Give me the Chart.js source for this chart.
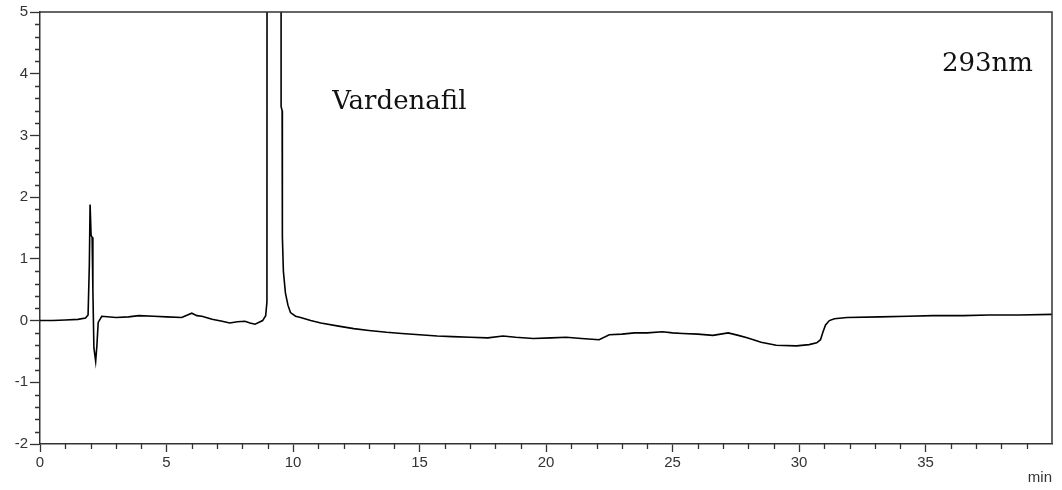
<!DOCTYPE html>
<html>
<head>
<meta charset="utf-8">
<title>Chromatogram 293nm</title>
<script src="https://cdn.jsdelivr.net/npm/chart.js@4.4.1/dist/chart.umd.min.js"></script>
<style>
    html, body { margin: 0; padding: 0; background: #fff; }
    #wrap { width: 1062px; height: 490px; }
</style>
</head>
<body>
<div id="wrap"><canvas id="chromChart" width="1062" height="490"></canvas></div>
<script>
// Retention time (min) and detector signal
const times = [0, 0.5, 1.0, 1.5, 1.8, 1.9, 1.95, 1.98, 2.02, 2.06, 2.09, 2.13, 2.2, 2.25, 2.3, 2.44,
    3.0, 3.5, 3.9, 4.5, 5.0, 5.6, 6.0, 6.2, 6.4, 6.8, 7.2, 7.5, 7.8, 8.1, 8.3, 8.5, 8.8, 8.92, 8.97,
    8.99, 9.52, 9.53, 9.57, 9.58, 9.62, 9.7, 9.8, 9.9, 10.1, 10.3, 10.7, 11.1, 11.8, 12.4, 13.0, 13.7,
    14.3, 15.0, 15.7, 16.3, 17.0, 17.7, 18.3, 18.8, 19.5, 20.2, 20.8, 21.4, 22.1, 22.5, 23.0, 23.5,
    24.0, 24.6, 25.0, 25.4, 26.0, 26.6, 27.2, 27.6, 27.95, 28.5, 29.1, 29.9, 30.4, 30.7, 30.85, 30.95,
    31.05, 31.2, 31.4, 31.9, 33.2, 34.3, 35.3, 36.5, 37.5, 38.7, 40.0];
const signal = [0.0, 0.0, 0.01, 0.02, 0.04, 0.09, 0.9, 1.88, 1.38, 1.35, 0.5, -0.44, -0.66, -0.4, -0.03, 0.07,
    0.05, 0.06, 0.08, 0.07, 0.06, 0.05, 0.12, 0.08, 0.07, 0.02, -0.01, -0.04, -0.02, -0.01, -0.04, -0.06, 0.0, 0.08, 0.3,
    30, 30, 3.47, 3.4, 1.36, 0.8, 0.45, 0.25, 0.13, 0.07, 0.05, 0.0, -0.04, -0.09, -0.13, -0.16, -0.19,
    -0.21, -0.23, -0.25, -0.26, -0.27, -0.28, -0.25, -0.27, -0.29, -0.28, -0.27, -0.29, -0.31, -0.23, -0.22, -0.2,
    -0.2, -0.18, -0.2, -0.21, -0.22, -0.24, -0.2, -0.24, -0.28, -0.35, -0.4, -0.41, -0.39, -0.36, -0.31, -0.18,
    -0.07, 0.0, 0.03, 0.05, 0.06, 0.07, 0.08, 0.08, 0.09, 0.09, 0.1];

// Axis setup
const xTicks = [0, 5, 10, 15, 20, 25, 30, 35];
const yTicks = [-2, -1, 0, 1, 2, 3, 4, 5];
const xMinorStep = 1;
const yMinorStep = 0.2;

// Text labels on the plot
const peakLabel = { text: 'Vardenafil', x: 11.55, y: 3.43 };
const waveLabel = { text: '293nm', x: 35.65, y: 4.04 };

const axisColor = '#333';

// Minor ticks, frame and text labels
const decorPlugin = {
    id: 'decor',
    afterDraw(chart) {
        const ctx = chart.ctx;
        const area = chart.chartArea;
        const xs = chart.scales.x;
        const ys = chart.scales.y;
        ctx.save();
        ctx.strokeStyle = axisColor;
        ctx.lineWidth = 1.5;

        // frame on top and right
        ctx.beginPath();
        ctx.moveTo(area.left, area.top);
        ctx.lineTo(area.right, area.top);
        ctx.lineTo(area.right, area.bottom);
        ctx.stroke();

        // minor ticks
        ctx.lineWidth = 1.3;
        ctx.beginPath();
        for (let v = xs.min; v <= xs.max + 1e-6; v += xMinorStep) {
            if (Math.abs(v % 5) < 1e-6) continue;
            const px = Math.round(xs.getPixelForValue(v)) + 0.5;
            ctx.moveTo(px, area.bottom);
            ctx.lineTo(px, area.bottom + 5);
        }
        for (let i = 0; i <= (ys.max - ys.min) / yMinorStep + 1e-6; i++) {
            const v = ys.min + i * yMinorStep;
            if (Math.abs(v - Math.round(v)) < 1e-6) continue;
            const py = Math.round(ys.getPixelForValue(v)) + 0.5;
            ctx.moveTo(area.left, py);
            ctx.lineTo(area.left - 5, py);
        }
        ctx.stroke();

        // annotations
        ctx.fillStyle = '#111';
        ctx.font = '26px "DejaVu Serif", serif';
        ctx.textBaseline = 'alphabetic';
        ctx.textAlign = 'left';
        ctx.fillText(peakLabel.text, xs.getPixelForValue(peakLabel.x), ys.getPixelForValue(peakLabel.y));
        ctx.fillText(waveLabel.text, xs.getPixelForValue(waveLabel.x), ys.getPixelForValue(waveLabel.y));
        ctx.restore();
    }
};

document.addEventListener('DOMContentLoaded', function() {
    const ctx = document.getElementById('chromChart').getContext('2d');
    new Chart(ctx, {
        type: 'line',
        data: {
            datasets: [{
                data: times.map((t, i) => ({ x: t, y: signal[i] })),
                borderColor: '#000',
                borderWidth: 1.6,
                pointRadius: 0,
                tension: 0,
                fill: false
            }]
        },
        options: {
            responsive: false,
            animation: false,
            layout: { padding: { left: 0, right: 10, top: 12, bottom: 0 } },
            plugins: {
                legend: { display: false },
                tooltip: { enabled: false }
            },
            scales: {
                x: {
                    type: 'linear',
                    min: 0,
                    max: 40,
                    afterFit: scale => { scale.height = 46; },
                    afterBuildTicks: scale => { scale.ticks = xTicks.map(v => ({ value: v })); },
                    ticks: {
                        color: axisColor,
                        font: { family: '"Liberation Sans", Arial, sans-serif', size: 15 },
                        padding: 2,
                        maxRotation: 0
                    },
                    grid: { drawOnChartArea: false, tickLength: 8, tickColor: axisColor, tickWidth: 1.3 },
                    border: { color: axisColor, width: 1.5 },
                    title: {
                        display: true,
                        text: 'min',
                        align: 'end',
                        color: axisColor,
                        font: { family: '"Liberation Sans", Arial, sans-serif', size: 15 },
                        padding: { top: 0, bottom: 3 }
                    }
                },
                y: {
                    type: 'linear',
                    min: -2,
                    max: 5,
                    afterFit: scale => { scale.width = 40; },
                    afterBuildTicks: scale => { scale.ticks = yTicks.map(v => ({ value: v })); },
                    ticks: {
                        color: axisColor,
                        font: { family: '"Liberation Sans", Arial, sans-serif', size: 15 },
                        padding: 2
                    },
                    grid: { drawOnChartArea: false, tickLength: 10, tickColor: axisColor, tickWidth: 1.3 },
                    border: { color: axisColor, width: 1.5 }
                }
            }
        },
        plugins: [decorPlugin]
    });
});
</script>
</body>
</html>
